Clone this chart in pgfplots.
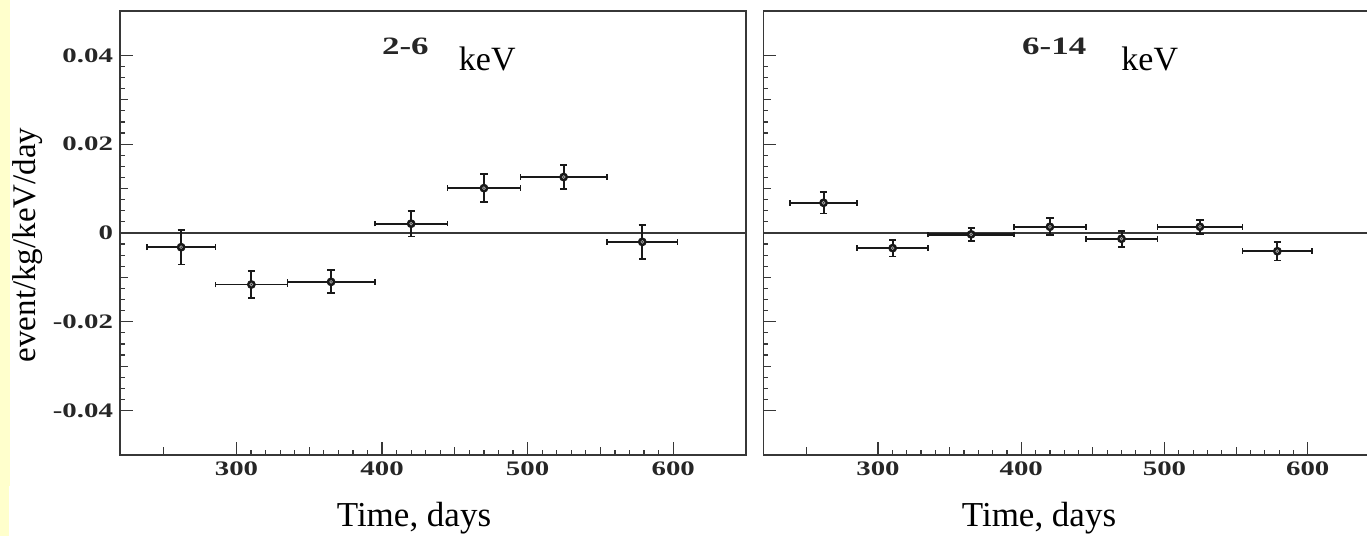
\documentclass[border=0pt]{standalone}
\usepackage{fontspec}
\setmainfont{Liberation Serif}
\newfontfamily\tickfont[FakeStretch=1.4]{Liberation Serif}
\usepackage{pgfplots}
\usepackage{pgfplotstable}
\pgfplotsset{compat=1.18}
\definecolor{framec}{RGB}{55,55,55}
\definecolor{barc}{RGB}{25,25,25}
\definecolor{stripe}{RGB}{255,255,204}

\pgfplotstableread{
x y ex ey
262 -0.0032 23.5 0.0039
310.25 -0.0116 24.75 0.0031
365 -0.0110 30 0.0026
420 0.0021 25 0.0029
470 0.0101 25 0.0031
524.75 0.0126 29.75 0.0027
578.75 -0.0020 24.25 0.0038
}\lefttable

\pgfplotstableread{
x y ex ey
262 0.0068 23.5 0.0024
310.25 -0.0034 24.75 0.0019
365 -0.0003 30 0.0015
420 0.0014 25 0.0019
470 -0.0013 25 0.0018
524.75 0.0014 29.75 0.0016
578.75 -0.0041 24.25 0.0021
}\righttable

\pgfplotsset{
  panel/.style={
    scale only axis, height=222pt,
    xmin=220, xmax=650, ymin=-0.05, ymax=0.05,
    axis line style={framec, line width=0.8pt},
    tick style={framec, line width=0.6pt},
    tick align=inside,
    xtick={300,400,500,600}, xticklabels={300,400,500,600},
    ytick={-0.04,-0.02,0,0.02,0.04},
    minor x tick num=9, minor y tick num=7,
    major tick length=6.5pt, minor tick length=2.5pt,
    xtick pos=left, ytick pos=left,
    extra y ticks={-0.03,-0.01,0.01,0.03}, extra y tick labels={},
    extra y tick style={major tick length=4pt},
    extra x ticks={250,350,450,550}, extra x tick labels={},
    extra x tick style={major tick length=4pt},
    ticklabel style={font=\tickfont\bfseries\fontsize{10.3}{11}\selectfont, text=black!85},
    clip=false,
  },
  xerr/.style={barc, only marks, mark=none,
    error bars/.cd, x dir=both, x explicit,
    error bar style={line width=0.85pt, barc},
    error mark options={rotate=90, line width=0.85pt, mark size=1.4pt, barc}},
  yerr/.style={barc, only marks, mark=o, mark size=0.7pt,
    mark options={gray!70, fill=white, line width=0.35pt},
    error bars/.cd, y dir=both, y explicit,
    error bar style={line width=1pt, barc},
    error mark options={rotate=90, line width=0.9pt, mark size=1.8pt, barc}},
}

\begin{document}
\begin{tikzpicture}
\fill[stripe] (0,268pt) rectangle (5pt,25pt);
\fill[stripe] (0,25pt) rectangle (4.3pt,0pt);

\begin{axis}[panel, at={(60pt,40.5pt)}, anchor=south west, width=313pt,
  yticklabels={-0.04,-0.02,0,0.02,0.04}]
  \addplot[framec, line width=0.6pt, forget plot] coordinates {(220,0) (650,0)};
  \addplot[xerr] table[x=x, y=y, x error=ex]{\lefttable};
  \addplot[yerr] table[x=x, y=y, y error=ey]{\lefttable};
  \node[anchor=base, font=\tickfont\bfseries\fontsize{12.5}{13}\selectfont, text=black!85] at (axis cs:416,0.0401) {2-6};
  \node[anchor=base west, font=\fontsize{17}{17}\selectfont] at (axis cs:448,0.0367) {keV};
\end{axis}

\begin{axis}[panel, at={(381.7pt,40.5pt)}, anchor=south west, width=308pt,
  yticklabels={}]
  \addplot[framec, line width=0.6pt, forget plot] coordinates {(220,0) (650,0)};
  \addplot[xerr] table[x=x, y=y, x error=ex]{\righttable};
  \addplot[barc, line width=1.4pt, forget plot] coordinates {(335,-0.0003) (395,-0.0003)};
  \addplot[yerr] table[x=x, y=y, y error=ey]{\righttable};
  \node[anchor=base, font=\tickfont\bfseries\fontsize{12.5}{13}\selectfont, text=black!85] at (axis cs:423,0.0401) {6-14};
  \node[anchor=base west, font=\fontsize{17}{17}\selectfont] at (axis cs:465,0.0367) {keV};
\end{axis}

\node[rotate=90, font=\fontsize{16.5}{18}\selectfont] at (14pt,145.5pt) {event/kg/keV/day};
\node[font=\fontsize{17.5}{20}\selectfont] at (207pt,9pt) {Time, days};
\node[font=\fontsize{17.5}{20}\selectfont] at (519.5pt,9pt) {Time, days};

\pgfresetboundingbox
\path (0,0) rectangle (683.5pt,268pt);
\end{tikzpicture}
\end{document}
